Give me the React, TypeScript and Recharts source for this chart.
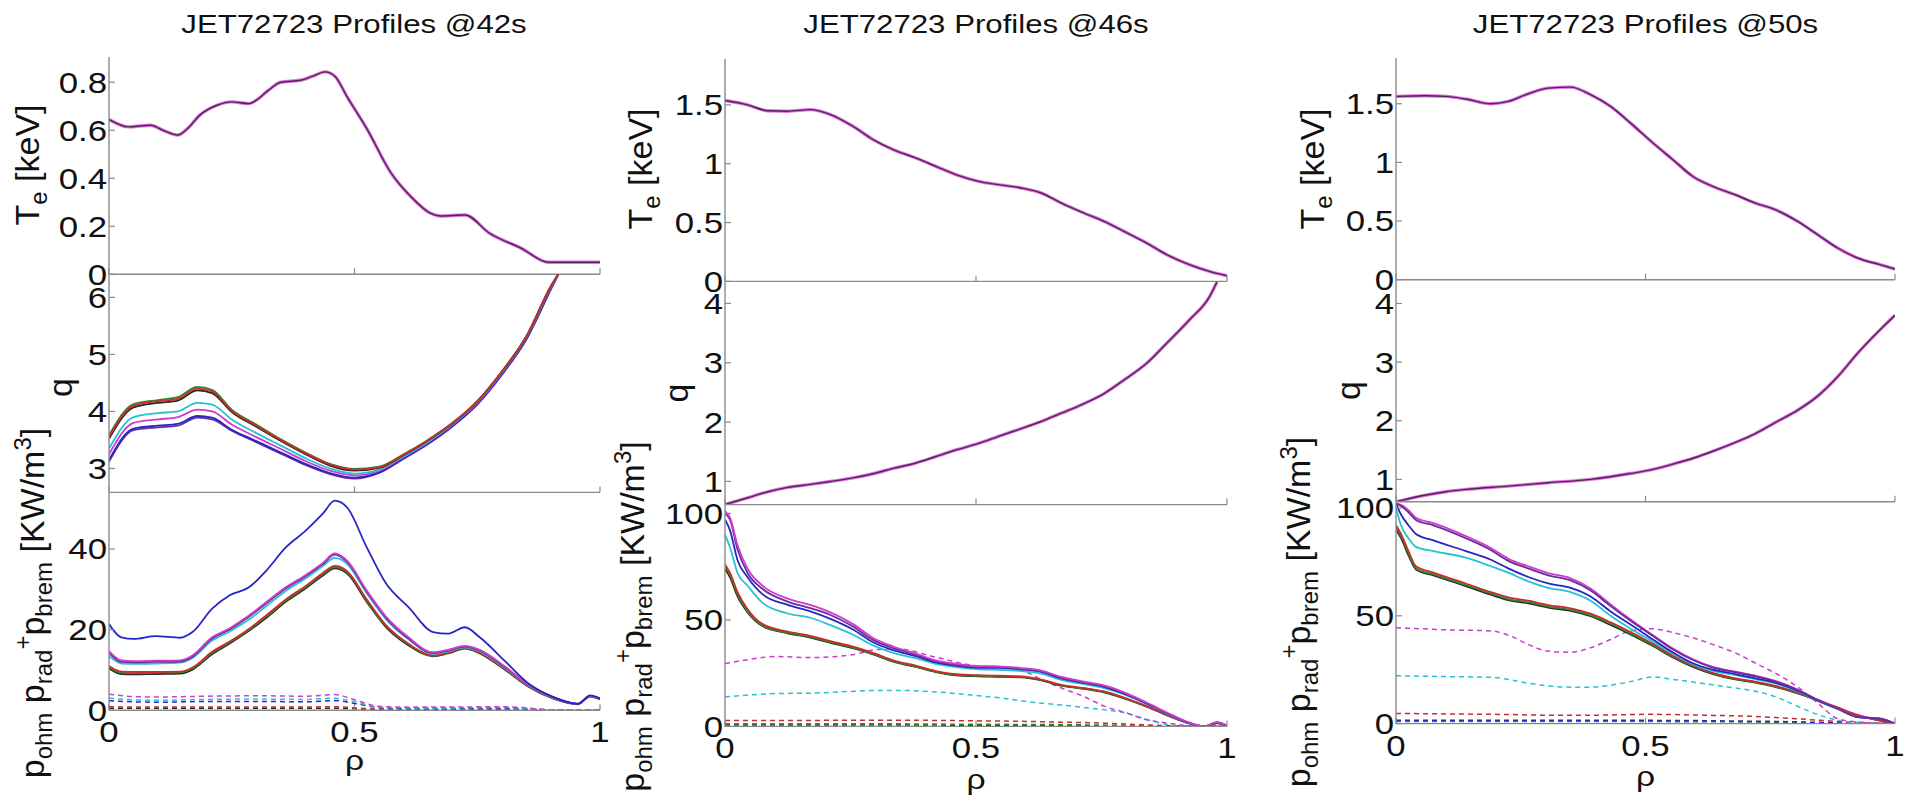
import React from 'react';
import { LineChart, Line, XAxis, YAxis } from 'recharts';

// ---------- shared ticks ----------
const X_TICKS = [0, 0.5, 1];

// ---------- JET72723 @42s ----------
const TE42_RHO = [0, 0.04, 0.085, 0.11, 0.14, 0.16, 0.185, 0.22, 0.25, 0.285, 0.3, 0.325, 0.35, 0.39, 0.415, 0.44, 0.46, 0.485, 0.525, 0.575, 0.615, 0.655, 0.675, 0.725, 0.775, 0.84, 0.895, 1];
const TE42 = [0.645, 0.614, 0.621, 0.6, 0.58, 0.607, 0.663, 0.704, 0.718, 0.711, 0.725, 0.767, 0.8, 0.808, 0.825, 0.843, 0.825, 0.739, 0.607, 0.42, 0.323, 0.254, 0.243, 0.247, 0.171, 0.108, 0.05, 0.05];

const Q42_RHO = [0, 0.05, 0.1, 0.14, 0.18, 0.21, 0.25, 0.3, 0.35, 0.4, 0.45, 0.5, 0.55, 0.6, 0.65, 0.7, 0.75, 0.8, 0.85, 0.9, 0.915];
const Q42_GREEN = [3.58, 4.13, 4.2, 4.25, 4.43, 4.38, 4.03, 3.77, 3.51, 3.28, 3.08, 2.99, 3.03, 3.25, 3.5, 3.8, 4.18, 4.7, 5.32, 6.2, 6.41];
const Q42_RED = [3.55, 4.1, 4.18, 4.22, 4.4, 4.35, 4.01, 3.75, 3.5, 3.27, 3.07, 2.98, 3.02, 3.24, 3.5, 3.8, 4.18, 4.7, 5.32, 6.2, 6.41];
const Q42_BLACK = [3.52, 4.07, 4.15, 4.19, 4.37, 4.32, 3.99, 3.73, 3.48, 3.25, 3.05, 2.96, 3.01, 3.23, 3.49, 3.79, 4.17, 4.69, 5.31, 6.19, 6.41];
const Q42_CYAN = [3.35, 3.9, 3.97, 4.0, 4.15, 4.12, 3.86, 3.62, 3.4, 3.18, 3.0, 2.91, 2.98, 3.21, 3.47, 3.78, 4.16, 4.68, 5.3, 6.18, 6.41];
const Q42_MAGENTA = [3.25, 3.8, 3.86, 3.9, 4.03, 4.0, 3.77, 3.55, 3.34, 3.13, 2.96, 2.88, 2.96, 3.2, 3.46, 3.77, 4.15, 4.67, 5.29, 6.17, 6.41];
const Q42_BLUE = [3.15, 3.7, 3.75, 3.78, 3.92, 3.89, 3.68, 3.48, 3.28, 3.08, 2.92, 2.84, 2.93, 3.18, 3.44, 3.75, 4.13, 4.65, 5.27, 6.15, 6.4];
const Q42_PURPLE = [3.12, 3.67, 3.72, 3.75, 3.89, 3.86, 3.66, 3.46, 3.26, 3.06, 2.9, 2.82, 2.92, 3.17, 3.43, 3.74, 4.12, 4.64, 5.26, 6.14, 6.4];

const P42_RHO = [0, 0.025, 0.05, 0.095, 0.145, 0.17, 0.21, 0.245, 0.285, 0.32, 0.36, 0.4, 0.435, 0.46, 0.485, 0.525, 0.565, 0.61, 0.66, 0.69, 0.725, 0.755, 0.805, 0.855, 0.905, 0.955, 0.98, 1];
const P42_BLUE = [21.4, 18.1, 17.7, 18.4, 18.0, 19.4, 25.2, 28.5, 30.5, 34.6, 40.4, 44.5, 48.7, 52.0, 50.3, 40.4, 31.3, 25.6, 19.4, 19.0, 20.6, 18.1, 12.4, 6.6, 3.3, 1.6, 3.7, 2.9];
const P42_MAGENTA = [14.7, 12.4, 12.2, 12.3, 12.4, 13.6, 18.1, 20.3, 23.5, 26.8, 30.5, 33.5, 36.5, 38.9, 37.1, 29.7, 23.1, 18.1, 14.4, 15.0, 16.0, 15.0, 11.0, 6.3, 3.3, 1.6, 3.6, 2.9];
const P42_PURPLE = [14.3, 12.0, 11.9, 12.0, 12.1, 13.3, 17.8, 20.0, 23.2, 26.5, 30.2, 33.2, 36.2, 38.6, 36.8, 29.4, 22.8, 17.8, 14.2, 14.8, 15.8, 14.8, 10.8, 6.2, 3.2, 1.6, 3.6, 2.9];
const P42_CYAN = [13.5, 11.6, 11.5, 11.6, 11.8, 13.0, 17.3, 19.5, 22.5, 25.8, 29.6, 32.7, 35.7, 37.8, 36.3, 29.0, 22.5, 17.6, 14.0, 14.6, 15.6, 14.6, 10.6, 6.1, 3.1, 1.6, 3.6, 2.9];
const P42_RED = [11.0, 9.6, 9.5, 9.5, 9.6, 10.6, 14.5, 17.0, 20.2, 23.5, 27.5, 30.8, 34.0, 35.8, 34.5, 27.5, 21.0, 16.5, 13.6, 14.3, 15.5, 14.3, 10.4, 6.0, 3.0, 1.6, 3.5, 2.8];
const P42_GREEN = [10.7, 9.3, 9.2, 9.3, 9.4, 10.4, 14.2, 16.8, 20.0, 23.2, 27.2, 30.5, 33.7, 35.5, 34.2, 27.2, 20.8, 16.3, 13.5, 14.2, 15.4, 14.2, 10.3, 5.9, 3.0, 1.6, 3.5, 2.8];
const P42_BLACK = [10.4, 9.0, 8.9, 9.0, 9.1, 10.1, 13.9, 16.5, 19.7, 22.9, 26.9, 30.2, 33.4, 35.2, 33.9, 26.9, 20.5, 16.1, 13.4, 14.1, 15.3, 14.1, 10.2, 5.8, 2.9, 1.5, 3.4, 2.7];

const PD42_RHO = [0, 0.05, 0.1, 0.2, 0.3, 0.4, 0.46, 0.5, 0.55, 0.6, 0.7, 0.8, 0.85, 0.9, 1];
const PD42_MAGENTA = [4.0, 3.4, 3.3, 3.5, 3.6, 3.5, 3.9, 2.6, 1.0, 0.8, 0.8, 0.9, 0.6, 0.1, 0];
const PD42_CYAN = [3.0, 2.6, 2.5, 2.7, 2.8, 2.7, 3.0, 2.1, 0.8, 0.6, 0.6, 0.7, 0.5, 0.1, 0];
const PD42_BLUE = [2.4, 2.1, 2.0, 2.2, 2.2, 2.1, 2.4, 1.7, 0.7, 0.5, 0.5, 0.6, 0.4, 0.1, 0];
const PD42_RED = [0.9, 0.8, 0.8, 0.8, 0.8, 0.8, 0.9, 0.6, 0.3, 0.3, 0.3, 0.3, 0.2, 0.1, 0];
const PD42_BLACK = [0.5, 0.5, 0.5, 0.5, 0.5, 0.5, 0.5, 0.4, 0.2, 0.2, 0.2, 0.2, 0.1, 0, 0];

// ---------- JET72723 @46s ----------
const TE46_RHO = [0, 0.045, 0.085, 0.125, 0.17, 0.21, 0.255, 0.295, 0.335, 0.38, 0.42, 0.46, 0.505, 0.545, 0.59, 0.63, 0.67, 0.715, 0.755, 0.795, 0.84, 0.88, 0.925, 0.965, 1];
const TE46 = [1.537, 1.5, 1.45, 1.446, 1.46, 1.418, 1.318, 1.205, 1.12, 1.049, 0.978, 0.907, 0.85, 0.822, 0.794, 0.751, 0.666, 0.581, 0.51, 0.425, 0.326, 0.227, 0.142, 0.085, 0.048];

const Q46_RHO = [0, 0.045, 0.085, 0.125, 0.17, 0.21, 0.255, 0.295, 0.335, 0.38, 0.42, 0.46, 0.505, 0.545, 0.59, 0.63, 0.67, 0.715, 0.755, 0.795, 0.84, 0.88, 0.925, 0.965, 0.98];
const Q46 = [0.61, 0.725, 0.826, 0.9, 0.95, 1.0, 1.06, 1.13, 1.22, 1.31, 1.42, 1.53, 1.64, 1.76, 1.89, 2.01, 2.15, 2.31, 2.48, 2.71, 2.99, 3.33, 3.72, 4.11, 4.36];

const P46_RHO = [0, 0.01, 0.025, 0.045, 0.075, 0.125, 0.17, 0.21, 0.255, 0.295, 0.335, 0.38, 0.42, 0.46, 0.505, 0.545, 0.59, 0.63, 0.67, 0.715, 0.755, 0.795, 0.84, 0.88, 0.925, 0.955, 0.98, 1];
const P46_PURPLE = [100, 97, 83, 72, 64.5, 58.6, 55.5, 52.3, 46.9, 40.6, 36.7, 33.6, 30.5, 28.9, 27.8, 27.8, 27.0, 25.8, 22.7, 20.6, 18.8, 15.6, 10.9, 6.3, 1.6, 0, 1.9, 0.3];
const P46_MAGENTA = [101, 98, 85, 74, 66, 60, 57, 53.5, 48, 41.5, 37.5, 34.2, 31, 29.4, 28.3, 28.2, 27.4, 26.2, 23.2, 21, 19.2, 16, 11.2, 6.5, 1.8, 0, 2.0, 0.3];
const P46_BLUE = [97, 92, 78, 70, 62, 57, 54, 50.5, 45.5, 39.5, 35.8, 33, 30, 28.5, 27.5, 27.5, 26.8, 25.6, 22.5, 20.4, 18.6, 15.4, 10.8, 6.2, 1.6, 0, 1.8, 0.3];
const P46_CYAN = [90, 84, 72, 66, 58, 53, 51, 47.5, 43, 38, 34.5, 32, 29.3, 27.8, 26.8, 26.6, 26.0, 24.8, 21.8, 19.8, 18.0, 15.0, 10.5, 6.0, 1.5, 0, 1.8, 0.3];
const P46_RED = [76, 72, 63, 55, 48, 44.5, 42.5, 40, 37.5, 34.5, 31, 28.5, 26, 24.5, 24, 23.8, 23.5, 22, 19.5, 18, 16.4, 13.5, 9.5, 5.5, 1.5, 0, 1.6, 0.3];
const P46_GREEN = [75, 71, 62, 54, 47.3, 44, 42, 39.5, 37, 34, 30.6, 28.1, 25.7, 24.2, 23.7, 23.5, 23.2, 21.8, 19.3, 17.8, 16.2, 13.3, 9.4, 5.4, 1.4, 0, 1.6, 0.3];
const P46_BLACK = [74, 70, 61, 53.5, 47, 43.7, 41.7, 39.2, 36.7, 33.8, 30.4, 27.9, 25.5, 24.0, 23.5, 23.3, 23.0, 21.6, 19.1, 17.6, 16.0, 13.1, 9.3, 5.3, 1.4, 0, 1.5, 0.3];

const PD46_RHO = [0, 0.05, 0.1, 0.17, 0.25, 0.3, 0.34, 0.42, 0.5, 0.55, 0.59, 0.63, 0.67, 0.715, 0.755, 0.8, 0.84, 0.88, 0.925, 1];
const PD46_MAGENTA = [29.5, 31.5, 32.8, 32.3, 33.5, 36, 36.5, 32.5, 28.5, 28, 26.5, 22, 18, 14, 9.5, 6.3, 3.1, 1.6, 0.3, 0];
const PD46_CYAN = [13.8, 14.8, 15.4, 15.6, 16.4, 16.9, 16.9, 16.2, 14.5, 13.3, 12.0, 10.9, 10.0, 8.9, 7.8, 6.2, 3.3, 0.9, 0.1, 0];
const PD46_RED = [2.8, 2.8, 2.8, 2.8, 2.9, 2.9, 2.9, 2.8, 2.6, 2.5, 2.4, 2.2, 2.0, 1.8, 1.5, 1.1, 0.7, 0.4, 0.1, 0];
const PD46_GREEN = [1.2, 1.2, 1.2, 1.2, 1.2, 1.2, 1.2, 1.1, 1.0, 1.0, 0.9, 0.9, 0.8, 0.7, 0.6, 0.5, 0.3, 0.2, 0.1, 0];
const PD46_BLACK = [0.6, 0.6, 0.6, 0.6, 0.6, 0.6, 0.6, 0.6, 0.5, 0.5, 0.5, 0.5, 0.4, 0.4, 0.3, 0.3, 0.2, 0.1, 0, 0];

// ---------- JET72723 @50s ----------
const TE50_RHO = [0, 0.06, 0.1, 0.14, 0.19, 0.225, 0.265, 0.305, 0.35, 0.39, 0.43, 0.47, 0.515, 0.555, 0.595, 0.635, 0.68, 0.72, 0.76, 0.805, 0.845, 0.885, 0.925, 0.97, 1];
const TE50 = [1.5625, 1.568, 1.5625, 1.54, 1.5, 1.52, 1.585, 1.633, 1.642, 1.577, 1.477, 1.335, 1.165, 1.023, 0.88, 0.795, 0.724, 0.653, 0.597, 0.497, 0.384, 0.27, 0.185, 0.128, 0.091];

const Q50_RHO = [0, 0.06, 0.1, 0.14, 0.225, 0.305, 0.39, 0.47, 0.515, 0.555, 0.595, 0.635, 0.68, 0.72, 0.76, 0.805, 0.845, 0.885, 0.925, 0.97, 1];
const Q50 = [0.62, 0.733, 0.79, 0.83, 0.886, 0.943, 1.0, 1.1, 1.17, 1.26, 1.36, 1.48, 1.63, 1.78, 1.97, 2.18, 2.42, 2.75, 3.15, 3.55, 3.8];

const P50_RHO = [0, 0.01, 0.025, 0.04, 0.075, 0.14, 0.19, 0.225, 0.265, 0.305, 0.35, 0.39, 0.43, 0.47, 0.515, 0.555, 0.595, 0.635, 0.68, 0.72, 0.76, 0.805, 0.845, 0.885, 0.925, 0.97, 1];
const P50_PURPLE = [102, 101, 98, 94.5, 92, 86, 80.5, 75.5, 72, 68.8, 66.4, 61.7, 54.5, 47.7, 40.6, 34.4, 29.5, 26, 23.8, 21.9, 19.5, 15.6, 10.9, 7.0, 3.1, 2.3, 0];
const P50_MAGENTA = [102, 101.5, 99, 95.5, 93, 87, 81.5, 76.5, 73, 69.8, 67.4, 62.7, 55.3, 48.3, 41, 34.8, 29.8, 26.3, 24.1, 22.2, 19.8, 15.8, 11.1, 7.1, 3.2, 2.4, 0];
const P50_BLUE = [102, 97, 92, 88, 85, 80, 76, 72, 68, 65, 63, 59, 52, 46, 39, 33, 28, 25, 23, 21, 19, 15.3, 10.7, 6.9, 3.0, 2.2, 0];
const P50_CYAN = [100, 92, 86, 82, 80, 77, 73, 70, 66, 63, 61, 57, 50, 44, 38, 32.5, 27.5, 24.5, 22.5, 20.6, 18.6, 15, 10.5, 6.8, 3.0, 2.2, 0];
const P50_RED = [92, 88, 80, 73, 70, 65, 61, 58.5, 57, 55, 53.5, 51, 47, 42.5, 37, 31.5, 27, 23.5, 21, 19.5, 17.5, 14.5, 11, 7.5, 4, 1.5, 0];
const P50_GREEN = [91, 87, 79, 72, 69.2, 64.3, 60.3, 57.8, 56.3, 54.3, 52.8, 50.3, 46.3, 41.8, 36.4, 31, 26.6, 23.2, 20.7, 19.2, 17.2, 14.2, 10.8, 7.3, 3.9, 1.4, 0];
const P50_BLACK = [90, 86, 78, 71.5, 68.7, 63.8, 59.8, 57.3, 55.8, 53.8, 52.3, 49.8, 45.8, 41.4, 36, 30.7, 26.3, 23, 20.5, 19, 17, 14, 10.7, 7.2, 3.8, 1.4, 0];

const PD50_RHO = [0, 0.05, 0.1, 0.19, 0.23, 0.265, 0.305, 0.35, 0.39, 0.43, 0.47, 0.515, 0.555, 0.595, 0.635, 0.68, 0.72, 0.76, 0.805, 0.845, 0.885, 0.925, 1];
const PD50_MAGENTA = [44.5, 44, 43.5, 43, 40.6, 36.7, 33.6, 33.1, 35.2, 39, 43, 44, 42.2, 39.8, 36.7, 32.8, 28.1, 23.4, 17, 9.5, 2.3, 0.8, 0];
const PD50_CYAN = [22.2, 22, 21.8, 21.5, 20.3, 18.75, 17.5, 16.9, 16.9, 17.8, 19.5, 21.6, 20.5, 19.3, 18, 16.5, 15.0, 12.5, 8.0, 4.2, 1.6, 0.4, 0];
const PD50_RED = [4.7, 4.6, 4.5, 4.3, 4.2, 4.0, 3.9, 3.9, 3.9, 4.0, 4.2, 4.3, 4.2, 4.0, 3.8, 3.6, 3.3, 2.8, 2.2, 1.6, 1.0, 0.5, 0];
const PD50_BLUE = [1.6, 1.6, 1.6, 1.6, 1.5, 1.5, 1.5, 1.5, 1.5, 1.5, 1.5, 1.5, 1.4, 1.4, 1.3, 1.2, 1.1, 1.0, 0.8, 0.6, 0.4, 0.2, 0];
const PD50_GREEN = [1.0, 1.0, 1.0, 1.0, 1.0, 1.0, 1.0, 1.0, 1.0, 1.0, 1.0, 1.0, 0.9, 0.9, 0.9, 0.8, 0.7, 0.6, 0.5, 0.4, 0.3, 0.1, 0];

// ---------- styling ----------
const FONT = '"Liberation Sans", Arial, Helvetica, sans-serif';
const BOX = '#8a8a8a';
const INK = '#111';
const SX = 1.2; // text in the figure is stretched horizontally
const PADL = 110;
const PADR = 14;
const PADT = 4;

const C = {
  blue: '#2626c4',
  magenta: '#cf3acf',
  purple: '#6a2c9c',
  cyan: '#25c3d2',
  red: '#cc2b2b',
  green: '#2b8a2b',
  black: '#262626',
  halo: '#d655d6',
  dark: '#55215f',
};

type Series = { name: string; rho: number[]; y: number[]; color: string; w: number; dash?: string; op?: number };

const solid = (name: string, rho: number[], y: number[], color: string, w = 1.8, op = 1): Series => ({ name, rho, y, color, w, op });
const dashed = (name: string, rho: number[], y: number[], color: string): Series => ({ name, rho, y, color, w: 1.5, dash: '5 4' });
// single profile drawn the way the reference shows it: thin dark core with a magenta fringe
const profile = (name: string, rho: number[], y: number[]): Series[] => [
  solid(name + '-m', rho, y, C.halo, 3.4, 0.8),
  solid(name + '-k', rho, y, C.dark, 1.4),
];

const toRows = (rho: number[], y: number[]) => rho.map((r, i) => ({ rho: r, v: y[i] }));

type PanelDef = {
  key: string;
  left: number;
  right: number;
  top: number;
  bottom: number;
  domain: [number, number];
  ticks: number[];
  xLabels: boolean;
  series: Series[];
};

const PANELS: PanelDef[] = [
  // @42s
  { key: 'te42', left: 109, right: 600, top: 57, bottom: 274.3, domain: [0, 0.905], ticks: [0, 0.2, 0.4, 0.6, 0.8], xLabels: false,
    series: profile('te42', TE42_RHO, TE42) },
  { key: 'q42', left: 109, right: 600, top: 274.3, bottom: 492.7, domain: [2.58, 6.41], ticks: [3, 4, 5, 6], xLabels: false,
    series: [
      solid('q42-purple', Q42_RHO, Q42_PURPLE, C.purple),
      solid('q42-blue', Q42_RHO, Q42_BLUE, C.blue),
      solid('q42-magenta', Q42_RHO, Q42_MAGENTA, C.magenta),
      solid('q42-cyan', Q42_RHO, Q42_CYAN, C.cyan),
      solid('q42-black', Q42_RHO, Q42_BLACK, C.black),
      solid('q42-green', Q42_RHO, Q42_GREEN, C.green),
      solid('q42-red', Q42_RHO, Q42_RED, C.red),
    ] },
  { key: 'p42', left: 109, right: 600, top: 492.7, bottom: 710, domain: [0, 53.9], ticks: [0, 20, 40], xLabels: true,
    series: [
      dashed('pd42-black', PD42_RHO, PD42_BLACK, C.black),
      dashed('pd42-red', PD42_RHO, PD42_RED, C.red),
      dashed('pd42-blue', PD42_RHO, PD42_BLUE, C.blue),
      dashed('pd42-cyan', PD42_RHO, PD42_CYAN, C.cyan),
      dashed('pd42-magenta', PD42_RHO, PD42_MAGENTA, C.magenta),
      solid('p42-black', P42_RHO, P42_BLACK, C.black),
      solid('p42-green', P42_RHO, P42_GREEN, C.green),
      solid('p42-red', P42_RHO, P42_RED, C.red),
      solid('p42-cyan', P42_RHO, P42_CYAN, C.cyan),
      solid('p42-purple', P42_RHO, P42_PURPLE, C.purple),
      solid('p42-magenta', P42_RHO, P42_MAGENTA, C.magenta),
      solid('p42-blue', P42_RHO, P42_BLUE, C.blue),
    ] },
  // @46s
  { key: 'te46', left: 725, right: 1227, top: 59.3, bottom: 281.7, domain: [0, 1.89], ticks: [0, 0.5, 1, 1.5], xLabels: false,
    series: profile('te46', TE46_RHO, TE46) },
  { key: 'q46', left: 725, right: 1227, top: 281.7, bottom: 504.3, domain: [0.61, 4.36], ticks: [1, 2, 3, 4], xLabels: false,
    series: profile('q46', Q46_RHO, Q46) },
  { key: 'p46', left: 725, right: 1227, top: 504.3, bottom: 726.7, domain: [0, 104.4], ticks: [0, 50, 100], xLabels: true,
    series: [
      dashed('pd46-black', PD46_RHO, PD46_BLACK, C.black),
      dashed('pd46-green', PD46_RHO, PD46_GREEN, C.green),
      dashed('pd46-red', PD46_RHO, PD46_RED, C.red),
      dashed('pd46-cyan', PD46_RHO, PD46_CYAN, C.cyan),
      dashed('pd46-magenta', PD46_RHO, PD46_MAGENTA, C.magenta),
      solid('p46-black', P46_RHO, P46_BLACK, C.black),
      solid('p46-green', P46_RHO, P46_GREEN, C.green),
      solid('p46-red', P46_RHO, P46_RED, C.red),
      solid('p46-cyan', P46_RHO, P46_CYAN, C.cyan),
      solid('p46-blue', P46_RHO, P46_BLUE, C.blue),
      solid('p46-purple', P46_RHO, P46_PURPLE, C.purple),
      solid('p46-magenta', P46_RHO, P46_MAGENTA, C.magenta),
    ] },
  // @50s
  { key: 'te50', left: 1396, right: 1895, top: 58.3, bottom: 280, domain: [0, 1.89], ticks: [0, 0.5, 1, 1.5], xLabels: false,
    series: profile('te50', TE50_RHO, TE50) },
  { key: 'q50', left: 1396, right: 1895, top: 280, bottom: 501.7, domain: [0.62, 4.4], ticks: [1, 2, 3, 4], xLabels: false,
    series: profile('q50', Q50_RHO, Q50) },
  { key: 'p50', left: 1396, right: 1895, top: 501.7, bottom: 723.3, domain: [0, 102.8], ticks: [0, 50, 100], xLabels: true,
    series: [
      dashed('pd50-green', PD50_RHO, PD50_GREEN, C.green),
      dashed('pd50-blue', PD50_RHO, PD50_BLUE, C.blue),
      dashed('pd50-red', PD50_RHO, PD50_RED, C.red),
      dashed('pd50-cyan', PD50_RHO, PD50_CYAN, C.cyan),
      dashed('pd50-magenta', PD50_RHO, PD50_MAGENTA, C.magenta),
      solid('p50-black', P50_RHO, P50_BLACK, C.black),
      solid('p50-green', P50_RHO, P50_GREEN, C.green),
      solid('p50-red', P50_RHO, P50_RED, C.red),
      solid('p50-cyan', P50_RHO, P50_CYAN, C.cyan),
      solid('p50-blue', P50_RHO, P50_BLUE, C.blue),
      solid('p50-magenta', P50_RHO, P50_MAGENTA, C.magenta),
      solid('p50-purple', P50_RHO, P50_PURPLE, C.purple),
    ] },
];

// horizontally stretched text, like the reference
function HText({ x, y, size, anchor, dy, children }: { x: number; y: number; size: number; anchor: 'start' | 'middle' | 'end'; dy?: string; children: React.ReactNode }) {
  return (
    <text transform={`translate(${x},${y}) scale(${SX},1)`} fontSize={size} textAnchor={anchor} dy={dy} fontFamily={FONT} fill={INK}>
      {children}
    </text>
  );
}

// MATLAB-style ticks: short marks pointing into the box
function LeftTick(props: any) {
  const { x, y, payload } = props;
  return (
    <g>
      <line x1={x} y1={y} x2={x + 6} y2={y} stroke={BOX} strokeWidth={1.2} />
      <HText x={x - 2} y={y} size={29} anchor="end" dy="0.36em">{String(payload.value)}</HText>
    </g>
  );
}

function RightTick(props: any) {
  const { x, y } = props;
  return <line x1={x} y1={y} x2={x - 6} y2={y} stroke={BOX} strokeWidth={1.2} />;
}

function TopTick(props: any) {
  const { x, y } = props;
  return <line x1={x} y1={y} x2={x} y2={y + 6} stroke={BOX} strokeWidth={1.2} />;
}

function BottomTick(props: any) {
  const { x, y, payload, labels } = props;
  return (
    <g>
      <line x1={x} y1={y} x2={x} y2={y - 6} stroke={BOX} strokeWidth={1.2} />
      {labels && <HText x={x} y={y + 32} size={29} anchor="middle">{String(payload.value)}</HText>}
    </g>
  );
}

const AXIS_LINE = { stroke: BOX, strokeWidth: 1.4 };

function Panel({ p }: { p: PanelDef }) {
  const w = p.right - p.left;
  const h = p.bottom - p.top;
  const padB = p.xLabels ? 48 : 4;
  return (
    <div style={{ position: 'absolute', left: p.left - PADL, top: p.top - PADT }}>
      <LineChart width={w + PADL + PADR} height={h + PADT + padB} margin={{ top: PADT, right: PADR, bottom: 0, left: 0 }}>
        <XAxis xAxisId="b" type="number" dataKey="rho" domain={[0, 1]} ticks={X_TICKS} interval={0} height={padB}
          tickSize={0} tickMargin={0} tickLine={false} axisLine={AXIS_LINE} allowDataOverflow
          tick={(t: any) => <BottomTick {...t} labels={p.xLabels} />} />
        <XAxis xAxisId="t" orientation="top" type="number" dataKey="rho" domain={[0, 1]} ticks={X_TICKS} interval={0} height={0}
          tickSize={0} tickMargin={0} tickLine={false} axisLine={AXIS_LINE} allowDataOverflow
          tick={(t: any) => <TopTick {...t} />} />
        <YAxis yAxisId="l" type="number" domain={p.domain} ticks={p.ticks} interval={0} width={PADL}
          tickSize={0} tickMargin={0} tickLine={false} axisLine={AXIS_LINE} allowDataOverflow
          tick={(t: any) => <LeftTick {...t} />} />
        <YAxis yAxisId="r" orientation="right" type="number" domain={p.domain} ticks={p.ticks} interval={0} width={0}
          tickSize={0} tickMargin={0} tickLine={false} axisLine={AXIS_LINE} allowDataOverflow
          tick={(t: any) => <RightTick {...t} />} />
        {p.series.map((s) => (
          <Line key={s.name} xAxisId="b" yAxisId="l" data={toRows(s.rho, s.y)} dataKey="v" type="monotone"
            stroke={s.color} strokeWidth={s.w} strokeOpacity={s.op ?? 1} strokeDasharray={s.dash} dot={false} activeDot={false}
            isAnimationActive={false} />
        ))}
      </LineChart>
    </div>
  );
}

// rotated axis label with sub/superscripts
function YLabel({ x, y, children }: { x: number; y: number; children: React.ReactNode }) {
  return (
    <text transform={`translate(${x},${y}) rotate(-90)`} textAnchor="middle" fontSize={34} fontFamily={FONT} fill={INK}>
      {children}
    </text>
  );
}

const TeLabel = () => (
  <>T<tspan fontSize={24} dy={8}>e</tspan><tspan dy={-8}> [keV]</tspan></>
);

const PLabel = () => (
  <>
    p<tspan fontSize={24} dy={8}>ohm</tspan>
    <tspan dy={-8}> p</tspan><tspan fontSize={24} dy={8}>rad</tspan>
    <tspan fontSize={24} dy={-21}>+</tspan>
    <tspan dy={13}>p</tspan><tspan fontSize={24} dy={8}>brem</tspan>
    <tspan dy={-8}> [KW/m</tspan><tspan fontSize={24} dy={-13}>3</tspan><tspan dy={13}>]</tspan>
  </>
);

const TITLES = ['JET72723 Profiles @42s', 'JET72723 Profiles @46s', 'JET72723 Profiles @50s'];

export default function App() {
  return (
    <div style={{ position: 'absolute', left: 0, top: 0, width: 1908, height: 799, background: '#fff', overflow: 'hidden' }}>
      <style>{'.recharts-surface{overflow:visible}'}</style>
      {PANELS.map((p) => <Panel key={p.key} p={p} />)}
      <svg width={1908} height={799} style={{ position: 'absolute', left: 0, top: 0, pointerEvents: 'none' }}>
        <HText x={354} y={33.3} size={26} anchor="middle">{TITLES[0]}</HText>
        <HText x={976} y={33.3} size={26} anchor="middle">{TITLES[1]}</HText>
        <HText x={1645.5} y={33.3} size={26} anchor="middle">{TITLES[2]}</HText>

        <YLabel x={38.8} y={165}><TeLabel /></YLabel>
        <YLabel x={71.7} y={387.5}>q</YLabel>
        <YLabel x={43.8} y={603}><PLabel /></YLabel>

        <YLabel x={651.6} y={169}><TeLabel /></YLabel>
        <YLabel x={688} y={393}>q</YLabel>
        <YLabel x={644} y={616.5}><PLabel /></YLabel>

        <YLabel x={1324} y={169}><TeLabel /></YLabel>
        <YLabel x={1360} y={390.5}>q</YLabel>
        <YLabel x={1310} y={612}><PLabel /></YLabel>

        <HText x={354.5} y={770} size={28} anchor="middle">ρ</HText>
        <HText x={976} y={789} size={28} anchor="middle">ρ</HText>
        <HText x={1645.5} y={786} size={28} anchor="middle">ρ</HText>
      </svg>
    </div>
  );
}
